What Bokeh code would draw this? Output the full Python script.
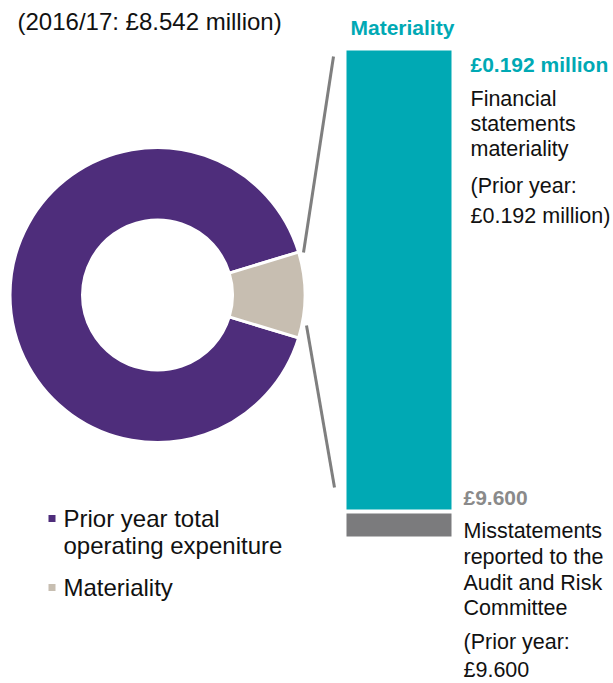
from bokeh.plotting import figure
from bokeh.models import Range1d
from bokeh.embed import file_html
from bokeh.resources import INLINE
from bokeh.core.properties import value
import numpy as np

# ---------------- data ----------------
title_text = "(2016/17: £8.542 million)"
pie_labels = ["Prior year total operating expenditure", "Materiality"]
pie_legend_lines = [["Prior year total", "operating expeniture"], ["Materiality"]]
pie_shares = [90.6, 9.4]          # visual share of the donut (%)
pie_colors = ["#4E2D7B", "#C7BEB1"]

bar_names = ["Materiality", "Misstatements"]
bar_values = [192000, 9600]       # £
bar_colors = ["#00A9B4", "#7B7B7D"]

mat_heading = "Materiality"
mat_value = "£0.192 million"
mat_lines = ["Financial", "statements", "materiality", "(Prior year:", "£0.192 million)"]
mis_value = "£9.600"
mis_lines = ["Misstatements", "reported to the", "Audit and Risk", "Committee", "(Prior year:", "£9.600"]

# ---------------- layout ----------------
W, H = 613, 683
FONT = "Liberation Sans"
def Y(py):
    return H - py

p = figure(width=W, height=H, output_backend="svg", toolbar_location=None,
           x_range=Range1d(0, W), y_range=Range1d(0, H), min_border=0)
p.axis.visible = False
p.grid.visible = False
p.outline_line_color = None
p.background_fill_color = "white"
p.border_fill_color = "white"

# title
p.text(x=[17], y=[Y(21)], text=[title_text], text_font=value(FONT),
       text_font_size="24px", text_baseline="middle", text_color="#111111")

# donut
cx, cy = 157, Y(294.5)
r_out, r_in = 147.5, 75
frac = np.array(pie_shares) / sum(pie_shares)
half = frac[1] * np.pi
starts = [half, -half]
ends = [2 * np.pi - half, half]
p.annular_wedge(x=[cx, cx], y=[cy, cy], inner_radius=r_in, outer_radius=r_out,
                start_angle=starts, end_angle=ends, fill_color=pie_colors,
                line_color="white", line_width=3)

# connector lines
p.line(x=[303, 333], y=[Y(252), Y(56)], line_color="#7F7F7F", line_width=3)
p.line(x=[306, 334], y=[Y(325), Y(487)], line_color="#7F7F7F", line_width=3)

# bars (scaled to values)
bx0, bx1 = 346, 451
top0 = 50
k = 459.0 / bar_values[0]
t1 = top0
b1 = top0 + bar_values[0] * k
t2 = b1 + 4
b2 = t2 + bar_values[1] * k
p.quad(left=[bx0, bx0], right=[bx1, bx1], top=[Y(t1), Y(t2)], bottom=[Y(b1), Y(b2)],
       fill_color=bar_colors, line_color=None)

# right texts
p.text(x=[350], y=[Y(27)], text=[mat_heading], text_font=value(FONT), text_font_size="21px",
       text_font_style="bold", text_baseline="middle", text_color=bar_colors[0])
p.text(x=[470], y=[Y(64)], text=[mat_value], text_font=value(FONT), text_font_size="21px",
       text_font_style="bold", text_baseline="middle", text_color=bar_colors[0])
mat_y = [98, 123, 148, 185, 215]
p.text(x=[470] * len(mat_lines), y=[Y(v) for v in mat_y], text=mat_lines,
       text_font=value(FONT), text_font_size="21.5px", text_baseline="middle", text_color="#111111")

p.text(x=[463], y=[Y(497)], text=[mis_value], text_font=value(FONT), text_font_size="21px",
       text_font_style="bold", text_baseline="middle", text_color="#8A8A8A")
mis_y = [530, 556, 582, 607, 641, 669]
p.text(x=[463] * len(mis_lines), y=[Y(v) for v in mis_y], text=mis_lines,
       text_font=value(FONT), text_font_size="21.5px", text_baseline="middle", text_color="#111111")

# legend
leg_y = [518, 587]
p.scatter(x=[51.5, 51.5], y=[Y(v) for v in leg_y], marker="square", size=7,
          fill_color=pie_colors, line_color=None)
p.text(x=[63, 63, 63], y=[Y(518), Y(545), Y(587)],
       text=pie_legend_lines[0] + pie_legend_lines[1], text_font=value(FONT),
       text_font_size="24px", text_baseline="middle", text_color="#111111")

open("out.html", "w").write(file_html(p, INLINE))
